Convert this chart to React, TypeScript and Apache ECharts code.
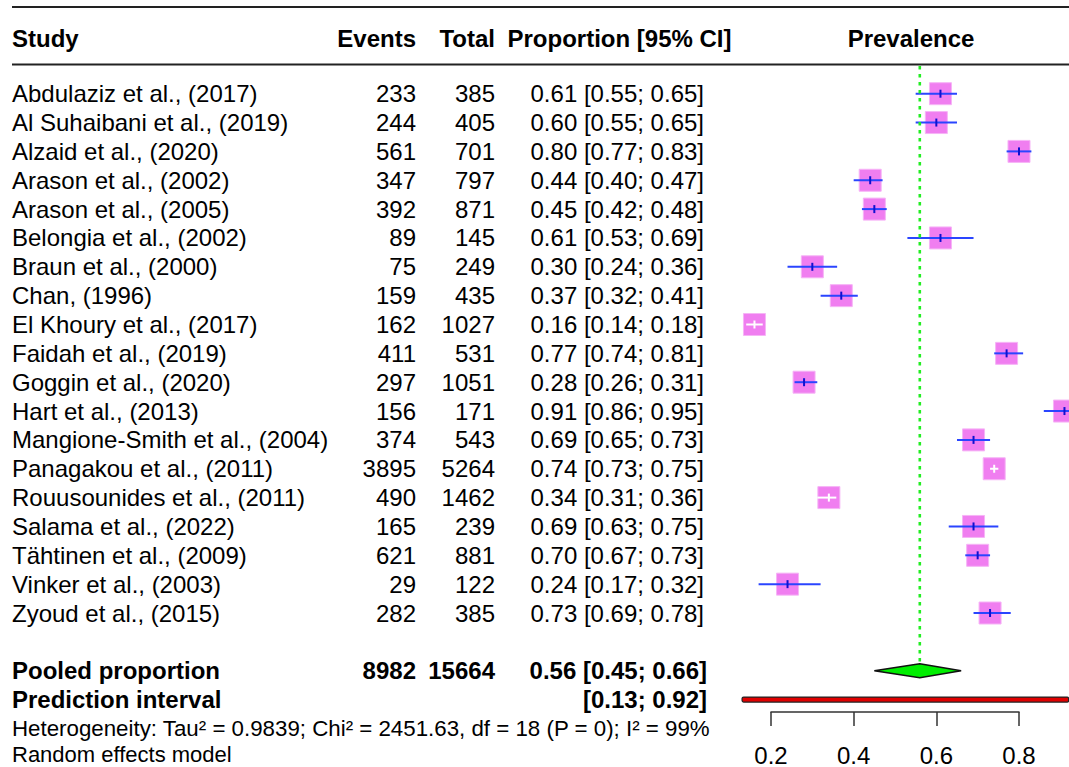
import React, { useEffect, useRef } from "react";
import * as echarts from "echarts";

// ---------- data ----------
const studies = [
  "Abdulaziz et al., (2017)",
  "Al Suhaibani et al., (2019)",
  "Alzaid et al., (2020)",
  "Arason et al., (2002)",
  "Arason et al., (2005)",
  "Belongia et al., (2002)",
  "Braun et al., (2000)",
  "Chan, (1996)",
  "El Khoury et al., (2017)",
  "Faidah et al., (2019)",
  "Goggin et al., (2020)",
  "Hart et al., (2013)",
  "Mangione-Smith et al., (2004)",
  "Panagakou et al., (2011)",
  "Rouusounides et al., (2011)",
  "Salama et al., (2022)",
  "Tähtinen et al., (2009)",
  "Vinker et al., (2003)",
  "Zyoud et al., (2015)",
];
const events = [233, 244, 561, 347, 392, 89, 75, 159, 162, 411, 297, 156, 374, 3895, 490, 165, 621, 29, 282];
const totals = [385, 405, 701, 797, 871, 145, 249, 435, 1027, 531, 1051, 171, 543, 5264, 1462, 239, 881, 122, 385];
const proportion = [0.61, 0.6, 0.8, 0.44, 0.45, 0.61, 0.3, 0.37, 0.16, 0.77, 0.28, 0.91, 0.69, 0.74, 0.34, 0.69, 0.7, 0.24, 0.73];
const ciLow = [0.55, 0.55, 0.77, 0.4, 0.42, 0.53, 0.24, 0.32, 0.14, 0.74, 0.257, 0.86, 0.65, 0.73, 0.312, 0.63, 0.67, 0.17, 0.69];
const ciHigh = [0.65, 0.65, 0.83, 0.47, 0.48, 0.69, 0.36, 0.41, 0.18, 0.81, 0.312, 0.95, 0.73, 0.75, 0.358, 0.75, 0.73, 0.32, 0.78];

const pooledEvents = 8982;
const pooledTotal = 15664;
const pooled = { est: 0.56, low: 0.45, high: 0.66 };
const prediction = { low: 0.13, high: 0.92 };
const heterogeneity = "Heterogeneity: Tau² = 0.9839; Chi² = 2451.63, df = 18 (P = 0); I² = 99%";
const modelLabel = "Random effects model";
const axisTicks = [0.2, 0.4, 0.6, 0.8];

// ---------- layout ----------
const W = 1069;
const H = 767;
const ROW0 = 93.7; // pixel centre of first study row
const PITCH = 28.85; // pixel per row
const X02 = 771; // pixel of 0.2
const PX_PER_UNIT = 413.33;
const PLOT_LEFT = 740;
const SQ = 22;
const FONT = "'Liberation Sans', Arial, Helvetica, sans-serif";

const yMin = -ROW0 / PITCH;
const yMax = (H - ROW0) / PITCH;
const xMin = axisTicks[0] - (X02 - PLOT_LEFT) / PX_PER_UNIT;
const xMax = axisTicks[0] + (W - X02) / PX_PER_UNIT;

const HEADER_ROW = (38 - ROW0) / PITCH;
const POOL_ROW = studies.length + 1;
const PRED_ROW = POOL_ROW + 1;
const HET_ROW = PRED_ROW + 1;
const MODEL_ROW = HET_ROW + 1 - 2.5 / PITCH;

function textSeries(
  id: string,
  texts: string[],
  rows: number[],
  x: number,
  align: string,
  bold: boolean,
  fontSize = 24
) {
  return {
    type: "custom",
    id,
    xAxisIndex: 1,
    yAxisIndex: 1,
    silent: true,
    clip: false,
    data: rows.map((r) => [x, r]),
    renderItem: (params: any, api: any) => {
      const p = api.coord([api.value(0), api.value(1)]);
      return {
        type: "text",
        x: p[0],
        y: p[1],
        style: {
          text: texts[params.dataIndex],
          textAlign: align,
          align: align,
          textVerticalAlign: "middle",
          verticalAlign: "middle",
          fontSize,
          lineHeight: fontSize,
          fontWeight: bold ? "bold" : "normal",
          fontFamily: FONT,
          fill: "#000",
        },
      };
    },
  };
}

export default function App() {
  const ref = useRef<HTMLDivElement>(null);

  useEffect(() => {
    if (!ref.current) return;
    const chart = echarts.init(ref.current, undefined, { renderer: "svg" });
    const rows = studies.map((_, i) => i);

    const forestData = studies.map((_, i) => [proportion[i], ciLow[i], ciHigh[i], i]);

    const option: any = {
      animation: false,
      backgroundColor: "#fff",
      grid: [
        { left: PLOT_LEFT, right: 0, top: 0, height: H },
        { left: 0, right: 0, top: 0, height: H },
        { left: X02, width: (axisTicks[3] - axisTicks[0]) * PX_PER_UNIT, top: 690, height: 23 },
      ],
      xAxis: [
        { type: "value", gridIndex: 0, min: xMin, max: xMax, show: false },
        { type: "value", gridIndex: 1, min: 0, max: W, show: false },
        {
          type: "value",
          gridIndex: 2,
          min: 0.2,
          max: 0.8,
          interval: 0.2,
          axisLine: { show: true, lineStyle: { color: "#333", width: 1.5 } },
          axisTick: { show: true, length: 14, lineStyle: { color: "#333", width: 1.5 } },
          splitLine: { show: false },
          axisLabel: {
            fontSize: 24,
            fontFamily: FONT,
            color: "#000",
            margin: 31,
            formatter: (v: number) => v.toFixed(1),
          },
        },
      ],
      yAxis: [
        { type: "value", gridIndex: 0, min: yMin, max: yMax, inverse: true, show: false },
        { type: "value", gridIndex: 1, min: yMin, max: yMax, inverse: true, show: false },
        { type: "value", gridIndex: 2, show: false },
      ],
      graphic: [
        { type: "line", shape: { x1: 12, y1: 7, x2: W, y2: 7 }, style: { stroke: "#222", lineWidth: 2.2 } },
        { type: "line", shape: { x1: 12, y1: 64.5, x2: W, y2: 64.5 }, style: { stroke: "#222", lineWidth: 2.2 } },
      ],
      series: [
        // reference line for pooled estimate
        {
          type: "line",
          xAxisIndex: 0,
          yAxisIndex: 0,
          silent: true,
          symbol: "none",
          data: [
            [pooled.est, (66 - ROW0) / PITCH],
            [pooled.est, POOL_ROW - 7 / PITCH],
          ],
          lineStyle: { color: "#22ee22", width: 2.6, type: [3.5, 4.5] },
        },
        // study squares + CIs
        {
          type: "custom",
          xAxisIndex: 0,
          yAxisIndex: 0,
          silent: true,
          clip: false,
          data: forestData,
          renderItem: (params: any, api: any) => {
            const c = api.coord([api.value(0), api.value(3)]);
            const l = api.coord([api.value(1), api.value(3)]);
            const h = api.coord([api.value(2), api.value(3)]);
            const inside = h[0] - l[0] < SQ;
            const col = inside ? "#ffffff" : "#2a45ff";
            const tickCol = inside ? "#ffffff" : "#1010d0";
            return {
              type: "group",
              children: [
                {
                  type: "rect",
                  shape: { x: c[0] - SQ / 2, y: c[1] - SQ / 2, width: SQ, height: SQ },
                  style: { fill: "#f07ef0", stroke: "#f6b4f6", lineWidth: 1 },
                },
                {
                  type: "line",
                  shape: { x1: l[0], y1: c[1], x2: h[0], y2: c[1] },
                  style: { stroke: col, lineWidth: 2 },
                },
                {
                  type: "line",
                  shape: { x1: c[0], y1: c[1] - 4, x2: c[0], y2: c[1] + 4 },
                  style: { stroke: tickCol, lineWidth: 2 },
                },
              ],
            };
          },
        },
        // pooled diamond
        {
          type: "custom",
          xAxisIndex: 0,
          yAxisIndex: 0,
          silent: true,
          clip: false,
          data: [[pooled.est, pooled.low, pooled.high, POOL_ROW]],
          renderItem: (params: any, api: any) => {
            const c = api.coord([api.value(0), api.value(3)]);
            const l = api.coord([api.value(1), api.value(3)]);
            const h = api.coord([api.value(2), api.value(3)]);
            return {
              type: "polygon",
              shape: {
                points: [
                  [l[0], c[1]],
                  [c[0], c[1] - 7],
                  [h[0], c[1]],
                  [c[0], c[1] + 7],
                ],
              },
              style: { fill: "#00ee00", stroke: "#111", lineWidth: 1.5 },
            };
          },
        },
        // prediction interval bar
        {
          type: "custom",
          xAxisIndex: 0,
          yAxisIndex: 0,
          silent: true,
          clip: false,
          data: [[prediction.low, prediction.high, PRED_ROW]],
          renderItem: (params: any, api: any) => {
            const l = api.coord([api.value(0), api.value(2)]);
            const h = api.coord([api.value(1), api.value(2)]);
            return {
              type: "rect",
              shape: { x: l[0], y: l[1] - 2.5, width: h[0] - l[0], height: 5, r: 1.5 },
              style: { fill: "#e00000", stroke: "#222", lineWidth: 1.2 },
            };
          },
        },
        // axis grid dummy series
        { type: "scatter", xAxisIndex: 2, yAxisIndex: 2, data: [], silent: true },
        // headers
        textSeries("hStudy", ["Study"], [HEADER_ROW], 12, "left", true),
        textSeries("hEvents", ["Events"], [HEADER_ROW], 416, "right", true),
        textSeries("hTotal", ["Total"], [HEADER_ROW], 495, "right", true),
        textSeries("hProp", ["Proportion [95% CI]"], [HEADER_ROW], 619.5, "center", true),
        textSeries("hPrev", ["Prevalence"], [HEADER_ROW], 911, "center", true),
        // study columns
        textSeries("study", studies, rows, 12, "left", false),
        textSeries("events", events.map(String), rows, 416, "right", false),
        textSeries("totals", totals.map(String), rows, 495, "right", false),
        textSeries(
          "prop",
          proportion.map((p, i) => `${p.toFixed(2)} [${ciLow[i].toFixed(2)}; ${ciHigh[i].toFixed(2)}]`),
          rows,
          704,
          "right",
          false
        ),
        // summary rows
        textSeries("poolLabel", ["Pooled proportion", "Prediction interval"], [POOL_ROW, PRED_ROW], 12, "left", true),
        textSeries("poolEvents", [String(pooledEvents)], [POOL_ROW], 416, "right", true),
        textSeries("poolTotal", [String(pooledTotal)], [POOL_ROW], 495, "right", true),
        textSeries(
          "poolProp",
          [
            `${pooled.est.toFixed(2)} [${pooled.low.toFixed(2)}; ${pooled.high.toFixed(2)}]`,
            `[${prediction.low.toFixed(2)}; ${prediction.high.toFixed(2)}]`,
          ],
          [POOL_ROW, PRED_ROW],
          707,
          "right",
          true
        ),
        textSeries("het", [heterogeneity], [HET_ROW], 12, "left", false, 22.3),
        textSeries("model", [modelLabel], [MODEL_ROW], 12, "left", false, 22),
      ],
    };
    chart.setOption(option);
    return () => chart.dispose();
  }, []);

  return (
    <div
      ref={ref}
      style={{ position: "fixed", left: 0, top: 0, width: W, height: H, background: "#fff" }}
    />
  );
}
